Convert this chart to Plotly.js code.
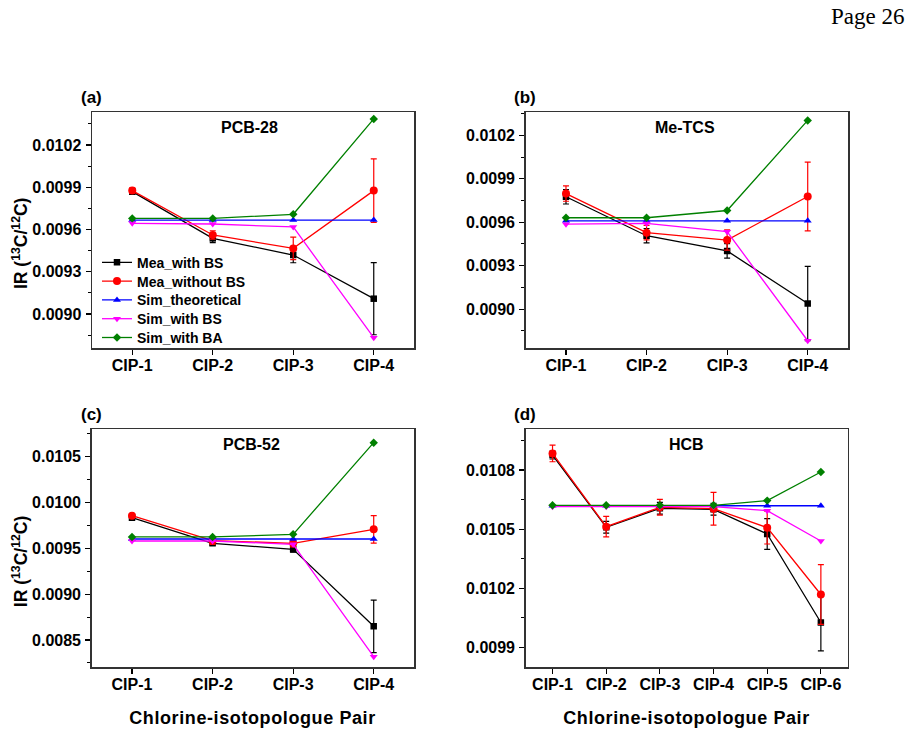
<!DOCTYPE html>
<html>
<head>
<meta charset="utf-8">
<script src="https://cdn.plot.ly/plotly-3.0.1.min.js"></script>
<style>
  html, body { margin: 0; padding: 0; background: #fff; }
  #chart { width: 912px; height: 734px; }
</style>
</head>
<body>
<div id="chart"></div>
<script>
// Chlorine-isotopologue pairs
const cip4 = ['CIP-1', 'CIP-2', 'CIP-3', 'CIP-4'];
const cip6 = ['CIP-1', 'CIP-2', 'CIP-3', 'CIP-4', 'CIP-5', 'CIP-6'];
const seriesNames = ['Mea_with BS', 'Mea_without BS', 'Sim_theoretical', 'Sim_with BS', 'Sim_with BA'];

// (a) PCB-28
const pcb28MeaBS      = [0.009869, 0.009537, 0.009419, 0.009109];
const pcb28MeaBSErr   = [0.00002, 0.00003, 0.000055, 0.000256];
const pcb28MeaNoBS    = [0.009876, 0.009561, 0.009466, 0.009876];
const pcb28MeaNoBSErr = [0.00002, 0.00003, 0.00008, 0.000225];
const pcb28SimTheo    = [0.009667, 0.009667, 0.009667, 0.009667];
const pcb28SimBS      = [0.009644, 0.009639, 0.009618, 0.008832];
const pcb28SimBA      = [0.009679, 0.009679, 0.009708, 0.010385];

// (b) Me-TCS
const metcsMeaBS      = [0.009776, 0.009507, 0.009402, 0.009039];
const metcsMeaBSErr   = [0.00005, 0.00005, 0.00005, 0.000257];
const metcsMeaNoBS    = [0.009798, 0.009528, 0.009477, 0.009778];
const metcsMeaNoBSErr = [0.000053, 0.00005, 0.00007, 0.000237];
const metcsSimTheo    = [0.00961, 0.00961, 0.00961, 0.00961];
const metcsSimBS      = [0.009587, 0.009592, 0.009535, 0.008782];
const metcsSimBA      = [0.009631, 0.009631, 0.009681, 0.010303];

// (c) PCB-52
const pcb52MeaBS      = [0.009835, 0.009555, 0.009489, 0.008649];
const pcb52MeaBSErr   = [0.00002, 0.00002, 0.00003, 0.000287];
const pcb52MeaNoBS    = [0.009856, 0.009584, 0.009555, 0.009707];
const pcb52MeaNoBSErr = [0.00002, 0.00004, 0.00004, 0.00015];
const pcb52SimTheo    = [0.009602, 0.009602, 0.009602, 0.009602];
const pcb52SimBS      = [0.00958, 0.00958, 0.009544, 0.008318];
const pcb52SimBA      = [0.009624, 0.009624, 0.009653, 0.010653];

// (d) HCB
const hcbMeaBS        = [0.010876, 0.01051, 0.010606, 0.010601, 0.010476, 0.010027];
const hcbMeaBSErr     = [0.00002, 0.00003, 0.00003, 0.00003, 0.000078, 0.000144];
const hcbMeaNoBS      = [0.010884, 0.010513, 0.010611, 0.010604, 0.010508, 0.010169];
const hcbMeaNoBSErr   = [0.000042, 0.000052, 0.00004, 0.000083, 0.000083, 0.000151];
const hcbSimTheo      = [0.010619, 0.010619, 0.010619, 0.010619, 0.010619, 0.010619];
const hcbSimBS        = [0.010614, 0.010614, 0.010614, 0.010614, 0.010594, 0.01044];
const hcbSimBA        = [0.010621, 0.010621, 0.010621, 0.010621, 0.010645, 0.01079];

const panels = [
  { label: '(a)', name: 'PCB-28', x: cip4,
    values: [pcb28MeaBS, pcb28MeaNoBS, pcb28SimTheo, pcb28SimBS, pcb28SimBA],
    errors: [pcb28MeaBSErr, pcb28MeaNoBSErr, null, null, null],
    yRange: [0.008759, 0.010434], tick0: 0.009, dtick: 0.0003 },
  { label: '(b)', name: 'Me-TCS', x: cip4,
    values: [metcsMeaBS, metcsMeaNoBS, metcsSimTheo, metcsSimBS, metcsSimBA],
    errors: [metcsMeaBSErr, metcsMeaNoBSErr, null, null, null],
    yRange: [0.008732, 0.010361], tick0: 0.009, dtick: 0.0003 },
  { label: '(c)', name: 'PCB-52', x: cip4,
    values: [pcb52MeaBS, pcb52MeaNoBS, pcb52SimTheo, pcb52SimBS, pcb52SimBA],
    errors: [pcb52MeaBSErr, pcb52MeaNoBSErr, null, null, null],
    yRange: [0.008202, 0.010802], tick0: 0.0085, dtick: 0.0005 },
  { label: '(d)', name: 'HCB', x: cip6,
    values: [hcbMeaBS, hcbMeaNoBS, hcbSimTheo, hcbSimBS, hcbSimBA],
    errors: [hcbMeaBSErr, hcbMeaNoBSErr, null, null, null],
    yRange: [0.0098, 0.011008], tick0: 0.0099, dtick: 0.0003 }
];

// Plot boxes in pixels: [left, right, top, bottom], plus the x centre of each compound name
const W = 912, H = 734;
const boxes = [
  [92, 414, 112, 348],
  [525.7, 848, 112, 348],
  [91.7, 414, 429, 667.3],
  [525.7, 847.7, 429, 667.3]
];
const nameX = [249.7, 685, 251, 686];

const colors  = ['#000000', '#ff0000', '#0000ff', '#ff00ff', '#008000'];
const symbols = ['square', 'circle', 'triangle-up', 'triangle-down', 'diamond'];
const sizes   = [6.5, 8, 7, 7, 6.5];

const FONT = 'Arial, "Liberation Sans", Helvetica, sans-serif';
const boldFont = (size) => ({ family: FONT, size: size, color: '#000', weight: 'bold' });

const traces = [];
const layout = {
  width: W, height: H,
  margin: { l: 0, r: 0, t: 0, b: 0 },
  paper_bgcolor: '#fff', plot_bgcolor: '#fff',
  showlegend: true,
  annotations: []
};

// one single-entry legend per series, stacked inside panel (a)
const legendIds = ['legend', 'legend2', 'legend3', 'legend4', 'legend5'];
legendIds.forEach((id, k) => {
  layout[id] = {
    x: 97 / W, y: 1 - (262.7 + k * 18.8) / H, xanchor: 'left', yanchor: 'middle',
    bgcolor: 'rgba(0,0,0,0)', font: boldFont(14), itemwidth: 30
  };
});

panels.forEach((p, i) => {
  const n = i + 1;
  const xa = n === 1 ? 'x' : 'x' + n;
  const ya = n === 1 ? 'y' : 'y' + n;
  const b = boxes[i];

  p.values.forEach((vals, s) => {
    const t = {
      type: 'scatter', mode: 'lines+markers',
      x: p.x, y: vals, xaxis: xa, yaxis: ya,
      name: seriesNames[s], legend: legendIds[s],
      showlegend: i === 0,
      line: { color: colors[s], width: 1.3 },
      marker: { symbol: symbols[s], size: sizes[s], color: colors[s] }
    };
    if (p.errors[s]) {
      t.error_y = { type: 'data', array: p.errors[s], visible: true,
                    color: colors[s], thickness: 1.2, width: 3 };
    }
    traces.push(t);
  });

  layout['xaxis' + (n === 1 ? '' : n)] = {
    domain: [b[0] / W, b[1] / W], anchor: ya,
    type: 'category', range: [-0.5, p.x.length - 0.5],
    showline: true, mirror: true, linecolor: '#333', linewidth: 1.5,
    ticks: 'outside', ticklen: 5, tickwidth: 1.2, tickcolor: '#000',
    tickfont: boldFont(16), showgrid: false, zeroline: false, fixedrange: true,
    ticklabelstandoff: -3
  };
  layout['yaxis' + (n === 1 ? '' : n)] = {
    domain: [1 - b[3] / H, 1 - b[2] / H], anchor: xa,
    range: p.yRange, tick0: p.tick0, dtick: p.dtick, tickformat: '.4f',
    showline: true, mirror: true, linecolor: '#333', linewidth: 1.5,
    ticks: 'outside', ticklen: 5, tickwidth: 1.2, tickcolor: '#000',
    minor: { ticks: 'outside', ticklen: 3, tickwidth: 1, tickcolor: '#000', dtick: p.dtick / 2 },
    tickfont: boldFont(16), showgrid: false, zeroline: false, fixedrange: true,
    ticklabelstandoff: 1
  };

  const cx = (b[0] + b[1]) / 2;
  // compound name inside the plot area
  layout.annotations.push({
    xref: 'paper', yref: 'paper', x: nameX[i] / W, y: 1 - (b[2] + 15.5) / H,
    xanchor: 'center', yanchor: 'middle', showarrow: false,
    text: p.name, font: boldFont(16)
  });
  // panel letter
  layout.annotations.push({
    xref: 'paper', yref: 'paper', x: (b[0] - 0.5) / W, y: 1 - (b[2] - 15) / H,
    xanchor: 'center', yanchor: 'middle', showarrow: false,
    text: p.label, font: boldFont(17)
  });
  // y-axis title on the left column
  if (i % 2 === 0) {
    layout.annotations.push({
      xref: 'paper', yref: 'paper', x: 20 / W, y: 1 - ((b[2] + b[3]) / 2 + 14) / H,
      xanchor: 'center', yanchor: 'middle', showarrow: false, textangle: -90,
      text: 'IR (<sup>13</sup>C/<sup>12</sup>C)', font: boldFont(17.5)
    });
  }
  // x-axis title on the bottom row
  if (i >= 2) {
    layout.annotations.push({
      xref: 'paper', yref: 'paper', x: cx / W, y: 1 - 718 / H,
      xanchor: 'center', yanchor: 'middle', showarrow: false,
      text: 'Chlorine-isotopologue Pair', font: boldFont(18)
    });
  }
});

// page number in the top-right corner
layout.annotations.push({
  xref: 'paper', yref: 'paper', x: 906 / W, y: 1 - 17 / H,
  xanchor: 'right', yanchor: 'middle', showarrow: false,
  text: 'Page 26',
  font: { family: '"Times New Roman", "Liberation Serif", serif', size: 23, color: '#000' }
});

Plotly.newPlot('chart', traces, layout, { staticPlot: true, displayModeBar: false }).then((gd) => {
  // widen the axis captions slightly with letter spacing
  gd.querySelectorAll('.annotation-text').forEach((el) => {
    if (el.textContent.indexOf('Chlorine') === 0) el.style.letterSpacing = '0.6px';
  });
});
</script>
</body>
</html>
